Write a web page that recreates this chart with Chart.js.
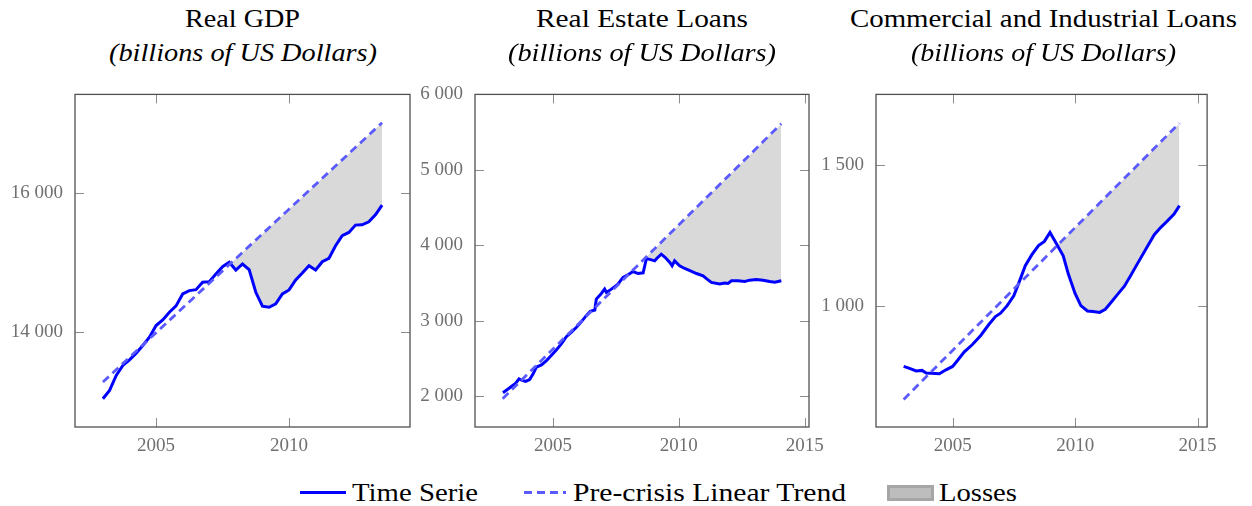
<!DOCTYPE html>
<html>
<head>
<meta charset="utf-8">
<script src="https://cdn.jsdelivr.net/npm/chart.js@4.4.1/dist/chart.umd.min.js"></script>
<style>
  html,body{margin:0;padding:0;background:#fff;}
  body{width:1252px;height:506px;position:relative;overflow:hidden;font-family:"Liberation Serif","Times New Roman",serif;}
  canvas{position:absolute;}
  .t{position:absolute;white-space:nowrap;line-height:1;color:#000;transform-origin:0 0;}
  .it{font-style:italic;}
  .leg{position:absolute;white-space:nowrap;line-height:1;color:#000;transform-origin:0 0;}
</style>
</head>
<body>
<script>
// ---------------- DATA ----------------
// Real GDP (quarterly, billions of US dollars)
const gdpX = [2003.00,2003.25,2003.50,2003.75,2004.00,2004.25,2004.50,2004.75,2005.00,2005.25,2005.50,2005.75,
  2006.00,2006.25,2006.50,2006.75,2007.00,2007.25,2007.50,2007.75,2008.00,2008.25,2008.50,2008.75,
  2009.00,2009.25,2009.50,2009.75,2010.00,2010.25,2010.50,2010.75,2011.00,2011.25,2011.50,2011.75,
  2012.00,2012.25,2012.50,2012.75,2013.00,2013.25,2013.50];
const gdpY = [13031,13151,13367,13511,13592,13688,13799,13918,14086,14168,14278,14369,
  14542,14590,14604,14710,14719,14830,14935,14998,14887,14974,14892,14566,
  14365,14350,14398,14542,14600,14743,14844,14950,14887,15007,15055,15237,
  15381,15429,15535,15540,15583,15683,15823];
const gdpTrendX = [2003.0, 2013.5];
const gdpTrendY = [13271, 17012];
const gdpLossFrom = 2007.75;
const gdpXTicks = [2005, 2010];
const gdpYTicks = [14000, 16000];

// Real Estate Loans
const reX = [2003.01,2003.28,2003.52,2003.65,2003.78,2003.91,2004.07,2004.21,2004.34,2004.54,2004.74,2004.93,
  2005.13,2005.33,2005.53,2005.73,2005.93,2006.13,2006.32,2006.48,2006.66,2006.72,2006.92,2007.05,2007.12,
  2007.32,2007.58,2007.78,2007.98,2008.18,2008.38,2008.58,2008.71,2008.91,2009.04,2009.13,2009.30,2009.46,
  2009.64,2009.73,2009.83,2010.03,2010.23,2010.46,2010.70,2010.96,2011.12,2011.29,2011.62,2011.82,2011.95,
  2012.09,2012.35,2012.62,2012.81,2013.08,2013.34,2013.61,2013.81,2014.07];
const reY = [2044,2110,2172,2229,2207,2194,2220,2295,2383,2414,2471,2537,
  2612,2692,2788,2846,2912,2987,3066,3123,3141,3286,3361,3418,3374,
  3418,3484,3573,3608,3652,3625,3634,3824,3806,3793,3828,3881,3837,
  3771,3727,3793,3727,3692,3661,3625,3595,3551,3507,3485,3498,3493,
  3529,3529,3520,3537,3546,3537,3520,3511,3529];
const reTrendX = [2003.0, 2014.07];
const reTrendY = [1965, 5612];
const reLossFrom = 2008.71;
const reXTicks = [2005, 2010, 2015];
const reYTicks = [2000, 3000, 4000, 5000, 6000];

// Commercial and Industrial Loans
const ciX = [2002.99,2003.23,2003.50,2003.74,2003.91,2004.11,2004.45,2004.72,2004.99,2005.19,2005.46,2005.80,
  2006.14,2006.47,2006.74,2006.95,2007.22,2007.49,2007.69,2007.96,2008.23,2008.50,2008.74,2008.97,
  2009.24,2009.51,2009.72,2009.99,2010.23,2010.50,2010.73,2011.00,2011.23,2011.47,2011.74,2012.01,
  2012.28,2012.55,2012.89,2013.23,2013.50,2013.77,2014.04,2014.26];
const ciY = [784,777,768,770,761,760,758,772,784,805,835,862,
  894,933,961,973,1000,1035,1079,1142,1181,1213,1228,1260,
  1219,1177,1112,1044,1000,981,979,976,987,1012,1041,1069,
  1109,1150,1201,1252,1278,1301,1325,1355];
const ciTrendX = [2002.99, 2014.26];
const ciTrendY = [667, 1648];
const ciLossFrom = 2008.97;
const ciXTicks = [2005, 2010, 2015];
const ciYTicks = [1000, 1500];

const titles = ["Real GDP", "Real Estate Loans", "Commercial and Industrial Loans"];
const subtitle = "(billions of US Dollars)";
const legendLabels = ["Time Serie", "Pre-crisis Linear Trend", "Losses"];

// ---------------- LAYOUT / STYLE ----------------
const SERIES_COLOR = '#0000ff';
const TREND_COLOR = '#5a5aff';
const LOSS_COLOR = '#d9d9d9';
const TICK_FONT = {family: '"Liberation Serif", serif', size: 19};
const TICK_COLOR = '#707070';

function pts(xs, ys){ return xs.map((x,i)=>({x:x, y:ys[i]})); }
function fmt(v){
  if (v >= 1000){ const th = Math.floor(v/1000); const r = String(v % 1000).padStart(3,'0'); return th + ' ' + r; }
  return String(v);
}

const framePlugin = {
  id: 'frame',
  afterDraw(chart){
    const {ctx, chartArea:a, scales:{x, y}} = chart;
    const TL = 9;
    ctx.save();
    ctx.strokeStyle = '#8c8c8c'; ctx.lineWidth = 1;
    ctx.beginPath();
    x.ticks.forEach(t => {
      const px = Math.round(x.getPixelForValue(t.value)) + 0.5;
      ctx.moveTo(px, a.bottom); ctx.lineTo(px, a.bottom - TL);
      ctx.moveTo(px, a.top); ctx.lineTo(px, a.top + TL);
    });
    y.ticks.forEach(t => {
      const py = Math.round(y.getPixelForValue(t.value)) + 0.5;
      ctx.moveTo(a.left, py); ctx.lineTo(a.left + TL, py);
      ctx.moveTo(a.right, py); ctx.lineTo(a.right - TL, py);
    });
    ctx.stroke();
    ctx.strokeStyle = '#505050'; ctx.lineWidth = 1.3;
    ctx.strokeRect(a.left, a.top, a.right - a.left, a.bottom - a.top);
    ctx.restore();
  }
};

function makePanel(cfg){
  const c = document.createElement('canvas');
  c.width = cfg.w; c.height = cfg.h;
  c.style.left = cfg.left + 'px'; c.style.top = cfg.top + 'px';
  c.style.width = cfg.w + 'px'; c.style.height = cfg.h + 'px';
  document.body.appendChild(c);
  const series = pts(cfg.xs, cfg.ys);
  const trend = pts(cfg.tx, cfg.ty);
  const loss = series.filter(p => p.x >= cfg.lossFrom);
  new Chart(c.getContext('2d'), {
    type: 'line',
    data: {
      datasets: [
        {label: legendLabels[0], data: series, borderColor: SERIES_COLOR, borderWidth: 3, pointRadius: 0, tension: 0, fill: false, order: 1},
        {label: legendLabels[1], data: trend, borderColor: TREND_COLOR, borderWidth: 2.8, borderDash: [8, 5], pointRadius: 0, tension: 0, fill: false, order: 0},
        {label: legendLabels[2], data: loss, borderWidth: 0, borderColor: 'rgba(0,0,0,0)', pointRadius: 0, tension: 0,
          fill: {target: 1, above: 'rgba(0,0,0,0)', below: LOSS_COLOR}, order: 2}
      ]
    },
    options: {
      responsive: false, animation: false, devicePixelRatio: 1,
      layout: {padding: {left: 0, top: 4, right: cfg.padR, bottom: 0}},
      plugins: {legend: {display: false}, tooltip: {enabled: false}},
      scales: {
        x: {type: 'linear', min: cfg.xmin, max: cfg.xmax,
          grid: {display: false, drawTicks: false}, border: {display: false},
          ticks: {font: TICK_FONT, color: TICK_COLOR, padding: 8, autoSkip: false, maxRotation: 0, callback: v => String(v)},
          afterBuildTicks: s => { s.ticks = cfg.xt.map(v => ({value: v})); },
          afterFit: s => { s.height = 30; }
        },
        y: {type: 'linear', min: cfg.ymin, max: cfg.ymax,
          grid: {display: false, drawTicks: false}, border: {display: false},
          ticks: {font: TICK_FONT, color: TICK_COLOR, padding: 12, autoSkip: false, callback: v => fmt(v)},
          afterBuildTicks: s => { s.ticks = cfg.yt.map(v => ({value: v})); },
          afterFit: s => { s.width = 70; }
        }
      }
    },
    plugins: [framePlugin]
  });
}

makePanel({left: 5, top: 71, w: 415, h: 386, padR: 10, xs: gdpX, ys: gdpY, tx: gdpTrendX, ty: gdpTrendY, lossFrom: gdpLossFrom,
  xmin: 2001.95, xmax: 2014.55, ymin: 12623, ymax: 17420, xt: gdpXTicks, yt: gdpYTicks});
makePanel({left: 405, top: 71, w: 430, h: 386, padR: 26, xs: reX, ys: reY, tx: reTrendX, ty: reTrendY, lossFrom: reLossFrom,
  xmin: 2001.9, xmax: 2015.17, ymin: 1590, ymax: 6000, xt: reXTicks, yt: reYTicks});
makePanel({left: 806, top: 71, w: 419, h: 386, padR: 15, xs: ciX, ys: ciY, tx: ciTrendX, ty: ciTrendY, lossFrom: ciLossFrom,
  xmin: 2001.86, xmax: 2015.39, ymin: 569, ymax: 1750, xt: ciXTicks, yt: ciYTicks});

// ---------------- TITLES ----------------
function fitText(text, cls, size, centerX, top, targetW){
  const d = document.createElement('div');
  d.className = cls; d.textContent = text;
  d.style.fontSize = size + 'px'; d.style.top = top + 'px'; d.style.left = '0px';
  document.body.appendChild(d);
  const w = d.getBoundingClientRect().width;
  const s = targetW / w;
  d.style.transform = 'scaleX(' + s + ')';
  d.style.left = (centerX - targetW/2) + 'px';
  return d;
}
const centers = [242.5, 642, 1043];
const titleW = [115, 212, 387];
const subW = [268, 268, 265];
for (let i = 0; i < 3; i++){
  fitText(titles[i], 't', 25, centers[i], 6, titleW[i]);
  fitText(subtitle, 't it', 25, centers[i], 40, subW[i]);
}

// ---------------- LEGEND ----------------
function leftText(text, size, left, top, targetW){
  const d = document.createElement('div');
  d.className = 'leg'; d.textContent = text;
  d.style.fontSize = size + 'px'; d.style.top = top + 'px'; d.style.left = left + 'px';
  document.body.appendChild(d);
  const w = d.getBoundingClientRect().width;
  d.style.transform = 'scaleX(' + (targetW / w) + ')';
}
function box(css){ const d = document.createElement('div'); d.style.position = 'absolute'; Object.assign(d.style, css); document.body.appendChild(d); }
box({left: '300px', top: '491px', width: '46px', height: '3px', background: SERIES_COLOR});
leftText(legendLabels[0], 25, 352, 480, 126);
box({left: '524px', top: '491px', width: '42px', height: '3px',
  background: 'repeating-linear-gradient(90deg,' + TREND_COLOR + ' 0 8px, transparent 8px 13px)'});
leftText(legendLabels[1], 25, 573, 480, 273);
box({left: '887px', top: '485px', width: '41px', height: '10px', background: '#bdbdbd', border: '3px solid #a6a6a6'});
leftText(legendLabels[2], 25, 939, 480, 78);
</script>
</body>
</html>
